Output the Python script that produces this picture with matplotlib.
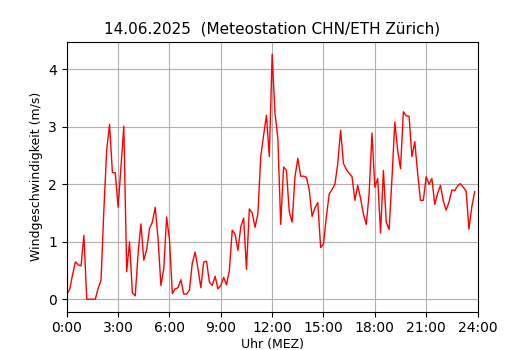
import numpy as np
import matplotlib
matplotlib.use("Agg")
import matplotlib.pyplot as plt

# 10-minute mean wind speed (m/s), 00:00 .. 23:50
wind = [
    0.09, 0.17, 0.42, 0.65, 0.60, 0.58, 1.11, 0.00, 0.00, 0.00,
    0.00, 0.19, 0.33, 1.55, 2.60, 3.04, 2.20, 2.20, 1.60, 2.30,
    3.01, 0.48, 1.00, 0.11, 0.06, 0.80, 1.31, 0.68, 0.86, 1.23,
    1.34, 1.60, 1.05, 0.24, 0.53, 1.43, 1.04, 0.10, 0.18, 0.20,
    0.34, 0.09, 0.09, 0.16, 0.63, 0.82, 0.53, 0.20, 0.65, 0.66,
    0.30, 0.24, 0.40, 0.18, 0.24, 0.38, 0.25, 0.50, 1.20, 1.13,
    0.85, 1.26, 1.41, 0.52, 1.57, 1.50, 1.25, 1.49, 2.48, 2.85,
    3.20, 2.48, 4.26, 3.23, 2.80, 1.30, 2.30, 2.24, 1.52, 1.34,
    2.13, 2.45, 2.14, 2.14, 2.12, 1.90, 1.44, 1.59, 1.68, 0.90,
    0.96, 1.43, 1.83, 1.91, 2.00, 2.36, 2.94, 2.36, 2.26, 2.19,
    2.13, 1.72, 1.98, 1.75, 1.48, 1.30, 1.84, 2.89, 1.95, 2.10,
    1.15, 2.24, 1.34, 1.21, 2.10, 3.08, 2.59, 2.27, 3.26, 3.19,
    3.18, 2.48, 2.74, 2.19, 1.72, 1.72, 2.13, 2.00, 2.10, 1.65,
    1.84, 1.98, 1.71, 1.55, 1.69, 1.90, 1.89, 1.97, 2.01, 1.95,
    1.88, 1.22, 1.61, 1.87,
]
hours = np.arange(len(wind)) / 6.0

tick_hours = list(range(0, 25, 3))
tick_labels = [f"{h}:00" for h in tick_hours]

fig = plt.figure(figsize=(5.3, 3.5), dpi=100)
ax = fig.add_axes([0.126, 0.11, 0.775, 0.77])
ax.plot(hours, wind, color="red", linewidth=1)
ax.set_xlim(0, 24)
ax.set_xticks(tick_hours)
ax.set_xticklabels(tick_labels)
ax.grid(True)
ax.set_title("14.06.2025  (Meteostation CHN/ETH Zürich)", fontsize=11)
ax.set_xlabel("Uhr (MEZ)", fontsize=9, labelpad=2)
ax.set_ylabel("Windgeschwindigkeit (m/s)", fontsize=9)

fig.savefig("out.png", dpi=100)
